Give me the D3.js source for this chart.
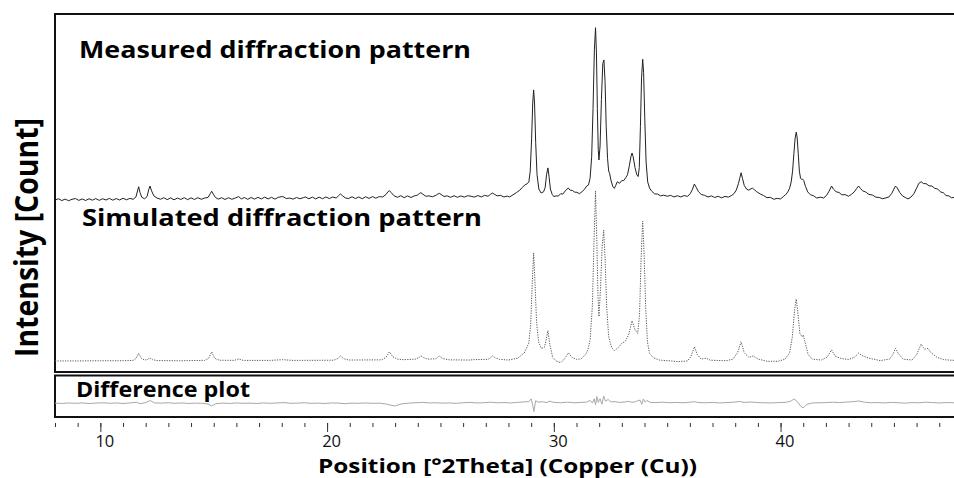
<!DOCTYPE html>
<html>
<head>
<meta charset="utf-8">
<script src="https://cdn.jsdelivr.net/npm/d3@7"></script>
<style>
  html, body { margin: 0; padding: 0; background: #fff; }
  svg { display: block; }
  text { font-family: "Open Sans", "Noto Sans", sans-serif; }
</style>
</head>
<body>
<svg id="chart" width="954" height="478"></svg>
<script>
// ---------------- DATA (2Theta in degrees, intensity in relative units) ----------------
const measured = [
[8.0,3.9],[8.15,4.6],[8.3,3.6],[8.45,4.4],[8.6,3.5],[8.75,4.3],[8.9,4.7],[9.05,3.7],[9.2,4.5],[9.35,3.6],[9.5,4.6],[9.65,3.8],[9.8,4.7],[9.95,3.7],[10.1,4.6],[10.25,3.9],[10.4,4.8],[10.55,3.8],[10.7,4.7],[10.85,3.9],[11.0,4.9],[11.15,4.0],[11.3,4.8],[11.45,4.3],[11.57,5.6],[11.64,9],[11.69,11.3],[11.75,8],[11.83,5.4],[11.95,4.6],[12.06,5.8],[12.13,9.5],[12.19,11.7],[12.26,9],[12.36,6.2],[12.5,5.0],[12.65,4.3],[12.8,5.2],[12.95,4.1],[13.1,5.1],[13.25,4.0],[13.4,5.0],[13.55,4.2],[13.7,5.2],[13.85,4.1],[14.0,5.1],[14.15,4.2],[14.3,5.2],[14.45,4.3],[14.6,5.0],[14.75,5.3],[14.85,7.5],[14.91,8.8],[14.98,7.2],[15.08,5.3],[15.2,4.4],[15.35,5.2],[15.5,4.2],[15.65,5.2],[15.8,4.3],[15.95,5.0],[16.1,5.8],[16.22,4.5],[16.35,5.3],[16.5,4.3],[16.65,5.3],[16.8,4.4],[16.95,5.4],[17.1,4.5],[17.25,5.5],[17.4,4.5],[17.55,5.4],[17.7,4.4],[17.85,5.4],[18.04,5.9],[18.2,4.7],[18.35,5.0],[18.5,4.4],[18.65,5.3],[18.8,4.6],[18.95,5.2],[19.04,5.6],[19.2,4.6],[19.35,5.5],[19.5,4.5],[19.65,5.5],[19.8,4.6],[19.95,5.6],[20.1,4.7],[20.25,5.6],[20.4,5.0],[20.5,6.2],[20.59,7.3],[20.68,6.3],[20.8,5.1],[20.95,4.7],[21.1,5.7],[21.25,4.7],[21.4,5.6],[21.55,4.6],[21.7,5.7],[21.85,4.8],[22.0,5.8],[22.15,4.9],[22.3,5.8],[22.45,5.6],[22.6,7],[22.69,8.6],[22.75,9.1],[22.83,8],[22.95,6.3],[23.1,5.4],[23.25,6.3],[23.4,5.2],[23.55,6.2],[23.7,5.3],[23.85,6.2],[23.98,6.6],[24.07,7.5],[24.14,8.0],[24.22,7.2],[24.35,6.0],[24.5,6.2],[24.65,5.7],[24.8,6.5],[24.88,7.2],[24.95,7.6],[25.03,7.0],[25.15,5.9],[25.3,6.2],[25.45,5.4],[25.6,6.3],[25.75,5.4],[25.9,6.2],[26.05,5.5],[26.2,6.3],[26.35,6.0],[26.5,5.5],[26.65,6.4],[26.8,5.6],[26.95,6.5],[27.1,6.0],[27.2,7.0],[27.29,7.8],[27.38,7.1],[27.5,6.2],[27.65,6.5],[27.8,5.6],[27.95,6.1],[28.05,5.6],[28.2,6.8],[28.35,8.0],[28.5,9.4],[28.62,11],[28.72,12.3],[28.82,12.9],[28.9,14],[28.96,20],[29.02,38],[29.07,58],[29.11,65.3],[29.15,58],[29.2,36],[29.26,18],[29.34,10],[29.44,7.8],[29.55,8.5],[29.62,11],[29.68,18],[29.74,21.8],[29.79,17],[29.85,10],[29.93,7],[30.0,5.8],[30.1,6.2],[30.2,6.1],[30.3,7.4],[30.4,7.2],[30.5,8.9],[30.58,10],[30.64,10.6],[30.72,9.4],[30.82,9.2],[30.92,8.3],[31.02,8.2],[31.13,7.4],[31.25,8.6],[31.35,9.8],[31.45,11.7],[31.53,12.3],[31.6,16],[31.67,28],[31.73,55],[31.79,88],[31.84,100],[31.88,86],[31.92,55],[31.96,32],[31.99,26.2],[32.04,34],[32.1,60],[32.16,80],[32.21,82],[32.26,70],[32.31,45],[32.37,27],[32.42,20],[32.46,18.8],[32.52,15],[32.6,11.5],[32.67,10.4],[32.73,12],[32.8,14.1],[32.9,13.2],[33.0,14.8],[33.08,14.7],[33.17,16.3],[33.25,18],[33.33,23],[33.4,28],[33.45,30.1],[33.5,28],[33.58,22],[33.66,18],[33.72,17],[33.77,22],[33.82,45],[33.87,72],[33.92,82.4],[33.96,75],[34.01,50],[34.07,25],[34.14,14],[34.22,10.6],[34.32,8.8],[34.45,7.3],[34.58,7.2],[34.7,6.2],[34.85,6.6],[35.0,6.0],[35.15,6.5],[35.3,5.6],[35.45,6.3],[35.6,5.6],[35.75,6.4],[35.9,5.9],[36.02,7.5],[36.12,10],[36.2,12.8],[36.28,11],[36.38,8.5],[36.5,7.0],[36.65,6.5],[36.8,5.6],[36.95,6.2],[37.1,5.3],[37.25,6.0],[37.4,5.1],[37.55,5.9],[37.7,5.5],[37.85,6.5],[37.95,7.5],[38.05,9.5],[38.14,13],[38.2,16],[38.26,19.1],[38.32,16],[38.4,12],[38.5,10],[38.6,9.4],[38.7,10.2],[38.76,10.5],[38.85,9.6],[38.95,8.5],[39.1,7.3],[39.25,6.4],[39.4,5.2],[39.55,5.4],[39.7,4.3],[39.85,4.8],[40.0,4.5],[40.12,5.8],[40.22,6.8],[40.32,8.4],[40.4,10.5],[40.47,14],[40.53,20],[40.59,30],[40.64,38],[40.69,41.7],[40.73,39],[40.78,30],[40.83,20],[40.88,16.2],[40.93,15.4],[40.97,15.6],[41.02,14.8],[41.1,11.5],[41.2,8.4],[41.32,6.8],[41.45,6.3],[41.6,5.0],[41.75,5.5],[41.9,5.0],[42.03,6.5],[42.14,8.8],[42.25,11.7],[42.33,10],[42.45,8.5],[42.58,8.1],[42.7,6.8],[42.85,6.9],[43.0,6.0],[43.12,7.0],[43.25,8.4],[43.35,10.2],[43.44,11.7],[43.52,10.4],[43.62,9.0],[43.75,8.4],[43.9,7.0],[44.05,6.7],[44.2,5.5],[44.35,5.3],[44.5,4.6],[44.65,5.1],[44.78,5.6],[44.9,7.5],[45.0,10],[45.07,11.7],[45.15,10.6],[45.25,8.2],[45.38,6.2],[45.5,5.3],[45.62,4.5],[45.75,5.5],[45.88,7.4],[46.0,10.5],[46.1,13.2],[46.2,14.1],[46.3,13.1],[46.42,13.0],[46.55,11.8],[46.68,11.7],[46.8,10.4],[46.93,10.0],[47.05,8.5],[47.18,7.9],[47.3,6.4],[47.42,6.2],[47.55,5.1],[47.65,5.4]
];

const simulated = [
[8.0,4.5],[9.0,4.5],[10.0,4.6],[11.0,4.6],[11.45,4.8],[11.58,6],[11.69,8.8],[11.8,6],[11.95,5.0],[12.08,5.3],[12.19,6.1],[12.3,5.2],[12.5,4.7],[13.5,4.6],[14.6,4.8],[14.78,6],[14.91,9.6],[15.04,6.0],[15.25,4.9],[15.9,4.8],[16.1,5.6],[16.3,4.8],[17.5,4.8],[18.04,5.2],[18.5,4.8],[20.3,4.9],[20.46,5.8],[20.59,7.3],[20.72,5.8],[20.95,5.0],[22.4,5.1],[22.6,6.5],[22.75,9.6],[22.9,6.8],[23.1,5.5],[23.4,5.2],[23.9,5.5],[24.04,6.3],[24.14,7.3],[24.26,6.3],[24.45,5.5],[24.8,5.7],[24.95,7.3],[25.1,5.8],[25.4,5.1],[26.3,5.0],[26.45,5.2],[27.1,5.4],[27.2,6.2],[27.3,7.3],[27.42,6.2],[27.6,5.4],[28.0,5.0],[28.4,6],[28.7,9],[28.9,14.5],[28.98,25],[29.05,48],[29.11,64.7],[29.17,48],[29.24,26],[29.33,15],[29.45,11.5],[29.58,12],[29.66,16],[29.74,21.4],[29.82,14],[29.95,6.5],[30.1,4.5],[30.3,3.5],[30.5,6],[30.64,9.1],[30.8,6.5],[31.0,5.4],[31.2,5.6],[31.4,8],[31.5,10.6],[31.6,16],[31.7,35],[31.77,70],[31.84,99.3],[31.9,70],[31.95,40],[31.99,29.2],[32.06,45],[32.13,68],[32.2,77.5],[32.26,62],[32.33,35],[32.42,18],[32.55,12],[32.67,10.2],[32.85,12],[33.0,14.3],[33.15,15.5],[33.3,19],[33.45,26.9],[33.58,22],[33.7,19.9],[33.78,30],[33.85,62],[33.92,82.5],[33.98,65],[34.05,35],[34.13,15],[34.22,8.8],[34.4,6.2],[34.66,5.0],[35.5,4.1],[35.9,4.5],[36.05,7],[36.2,12.4],[36.33,8],[36.5,5.5],[36.72,6.0],[36.9,4.9],[37.6,4.6],[37.9,5.5],[38.1,9],[38.26,15.2],[38.4,9],[38.6,6.5],[38.8,7.3],[39.0,5.6],[39.4,4.3],[39.9,4.3],[40.2,5.5],[40.4,9],[40.52,18],[40.62,33],[40.69,39],[40.76,32],[40.85,20],[40.95,18],[41.0,19],[41.1,14],[41.22,8],[41.4,5.5],[41.8,5.0],[42.05,6.5],[42.25,10.6],[42.42,7],[42.7,5.8],[43.0,5.3],[43.25,6.5],[43.44,8.8],[43.6,7.5],[43.9,6.0],[44.4,4.7],[44.8,5.5],[44.95,8],[45.07,11.5],[45.2,8.5],[45.4,5.5],[45.8,5.0],[46.0,8],[46.2,13.9],[46.35,11],[46.5,11.5],[46.65,9],[46.9,6.5],[47.2,5.2],[47.65,4.8]
];

const difference = [
[8.0,0.1],[8.3,-0.1],[8.6,0.2],[8.9,0],[9.2,0.2],[9.5,-0.1],[9.8,0.1],[10.1,0.3],[10.4,0],[10.7,0.2],[11.0,-0.1],[11.3,0.2],[11.6,0.6],[11.75,-0.2],[12.0,0.4],[12.2,1.5],[12.4,0.2],[12.7,0.1],[13.0,0.3],[13.3,0],[13.6,0.2],[13.9,-0.1],[14.2,0.1],[14.5,0],[14.75,-0.4],[14.9,-1.5],[15.1,-0.2],[15.4,0.1],[15.7,-0.1],[16.0,0.2],[16.3,0],[16.6,0.1],[16.9,-0.1],[17.2,0.2],[17.5,0],[17.8,0.2],[18.1,0.4],[18.4,0],[18.7,0.1],[19.0,0.3],[19.3,0],[19.6,0.1],[19.9,-0.1],[20.2,0.2],[20.5,0.1],[20.8,-0.2],[21.1,0.1],[21.4,0],[21.7,0.2],[22.0,0],[22.3,0.1],[22.6,-0.4],[22.97,-1.5],[23.3,-0.3],[23.6,0.1],[23.9,0.3],[24.2,0.5],[24.5,0.2],[24.8,0.3],[25.1,0.1],[25.4,0.2],[25.7,0],[26.0,0.3],[26.3,0.5],[26.6,0.2],[26.9,0.3],[27.2,0.6],[27.5,0.3],[27.8,0.4],[28.1,0.2],[28.4,0.5],[28.7,0.8],[28.9,1.0],[29.0,2.5],[29.07,-1],[29.12,-4.6],[29.2,1.5],[29.3,0.6],[29.5,0.9],[29.7,0.4],[29.8,1.2],[30.0,0.5],[30.3,0.3],[30.6,0.6],[30.9,0.3],[31.2,0.5],[31.45,0.7],[31.6,1.6],[31.7,0.2],[31.78,2.5],[31.84,-0.8],[31.9,3.8],[31.96,0.5],[32.04,2.6],[32.12,-0.5],[32.2,4],[32.28,1.2],[32.4,2.2],[32.5,0.8],[32.7,0.9],[32.9,0.5],[33.1,0.7],[33.3,1.1],[33.45,0.5],[33.6,0.9],[33.8,1.8],[33.88,-0.6],[33.95,2.4],[34.03,0.6],[34.1,1.6],[34.25,0.5],[34.5,0.4],[34.8,0.6],[35.1,0.3],[35.4,0.5],[35.7,0.3],[36.0,0.6],[36.2,0.9],[36.4,0.4],[36.7,0.3],[37.0,0.5],[37.3,0.2],[37.6,0.4],[37.9,0.6],[38.2,1.0],[38.4,0.5],[38.7,0.7],[39.0,0.4],[39.3,0.3],[39.6,0.2],[39.9,0.4],[40.2,0.5],[40.45,1.2],[40.6,2.4],[40.75,0.8],[40.9,-1.8],[41.0,-2.6],[41.15,-0.6],[41.4,0.2],[41.7,0.3],[42.0,0.4],[42.3,0.6],[42.6,0.4],[42.9,0.7],[43.2,0.9],[43.45,1.3],[43.7,0.6],[44.0,0.3],[44.3,0.4],[44.6,0.2],[44.9,0.5],[45.2,0.3],[45.5,0.1],[45.8,0.4],[46.1,0.3],[46.4,0.6],[46.7,0.4],[47.0,0.2],[47.3,0.4],[47.65,0.3]
];

const xDomain = [8, 47.65];
const majorTicks = [10, 20, 30, 40];
const minorTicks = [8,9,10,11,12,13,14,15,16,17,18,19,20,21,22,23,24,25,26,27,28,29,30,31,32,33,34,35,36,37,38,39,40,41,42,43,44,45,46,47];
const panelLabels = ["Measured diffraction pattern", "Simulated diffraction pattern", "Difference plot"];
const xTitle = "Position [°2Theta] (Copper (Cu))";
const yTitle = "Intensity [Count]";

// ---------------- LAYOUT ----------------
const svg = d3.select("#chart");
const plotL = 55, plotR = 954, plotT = 14;
const mainBottom = 372, diffTop = 375.5, diffBottom = 417;

const x = d3.scaleLinear().domain(xDomain).range([plotL, plotR]);
const yMeas = d3.scaleLinear().domain([0, 100]).range([207, 27.7]);
const ySim  = d3.scaleLinear().domain([0, 100]).range([369, 189.7]);
const yDiff = d3.scaleLinear().domain([0, 10]).range([403.3, 385.4]);

svg.append("clipPath").attr("id", "plotclip")
  .append("rect").attr("x", plotL).attr("y", plotT).attr("width", plotR - plotL + 2).attr("height", diffBottom - plotT);

// frames
svg.append("path")
  .attr("d", `M${plotR + 2},${plotT} H${plotL} V${mainBottom} H${plotR + 2}`)
  .attr("fill", "none").attr("stroke", "#111").attr("stroke-width", 2);
svg.append("path")
  .attr("d", `M${plotR + 2},${diffTop} H${plotL} V${diffBottom} H${plotR + 2}`)
  .attr("fill", "none").attr("stroke", "#111").attr("stroke-width", 2);

const g = svg.append("g").attr("clip-path", "url(#plotclip)");

// difference
g.append("path").datum(difference)
  .attr("d", d3.line().x(d => x(d[0])).y(d => yDiff(d[1])))
  .attr("fill", "none").attr("stroke", "#a8a8a8").attr("stroke-width", 1);

// simulated (dotted)
g.append("path").datum(simulated)
  .attr("d", d3.line().x(d => x(d[0])).y(d => ySim(d[1])))
  .attr("fill", "none").attr("stroke", "#555").attr("stroke-width", 1)
  .attr("stroke-dasharray", "1.2,1.3");

// measured
g.append("path").datum(measured)
  .attr("d", d3.line().x(d => x(d[0])).y(d => yMeas(d[1])))
  .attr("fill", "none").attr("stroke", "#222").attr("stroke-width", 1);

// panel labels (stretched to the reference's wider font)
function label(txt, lx, ly, size, len) {
  svg.append("text").attr("x", lx).attr("y", ly).attr("font-size", size).attr("font-weight", 700)
    .attr("fill", "#000").attr("textLength", len).attr("lengthAdjust", "spacingAndGlyphs").text(txt);
}
label(panelLabels[0], 79, 58, 24, 392);
label(panelLabels[1], 82, 226, 24, 400);
label(panelLabels[2], 76, 397, 21.5, 174);

// x axis
const axisY = 423;
const minorAxis = d3.axisBottom(x).tickValues(minorTicks).tickSize(4).tickFormat("");
const majorAxis = d3.axisBottom(x).tickValues(majorTicks).tickSize(9).tickPadding(3).tickFormat(d3.format("d"));
const gm = svg.append("g").attr("transform", `translate(0,${axisY})`).call(minorAxis);
gm.select(".domain").remove();
gm.selectAll("line").attr("stroke", "#333");
const gM = svg.append("g").attr("transform", `translate(0,${axisY})`).call(majorAxis);
gM.select(".domain").remove();
gM.selectAll("line").attr("stroke", "#333");
gM.selectAll("text").attr("font-size", 16.5).attr("fill", "#111").attr("dx", 4)
  .style("font-family", "'Open Sans', 'Noto Sans', sans-serif");

// axis titles
svg.append("text").attr("x", 318).attr("y", 473)
  .attr("font-size", 20).attr("font-weight", 700).attr("fill", "#000")
  .attr("textLength", 379).attr("lengthAdjust", "spacingAndGlyphs").text(xTitle);
svg.append("text").attr("transform", "translate(38,357) rotate(-90)")
  .attr("font-size", 33).attr("font-weight", 700).attr("fill", "#000")
  .attr("textLength", 239).attr("lengthAdjust", "spacingAndGlyphs").text(yTitle);
</script>
</body>
</html>
